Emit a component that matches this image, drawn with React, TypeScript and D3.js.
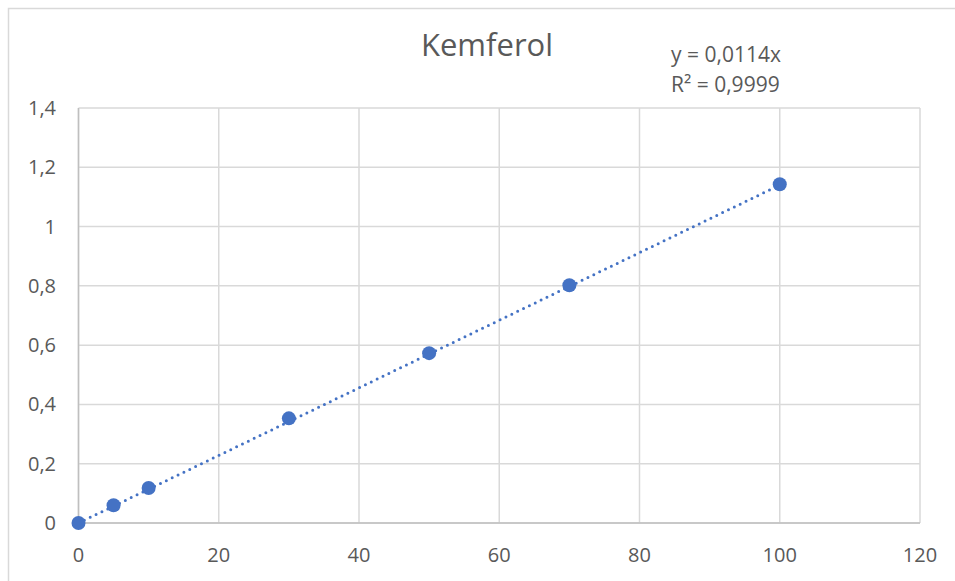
import React from "react";
import * as d3 from "d3";

const xValues = [0, 5, 10, 30, 50, 70, 100];
const yValues = [0, 0.06, 0.118, 0.353, 0.573, 0.802, 1.143];
const xTicks = [0, 20, 40, 60, 80, 100, 120];
const yTicks = [0, 0.2, 0.4, 0.6, 0.8, 1, 1.2, 1.4];
const slope = 0.0114;
const title = "Kemferol";
const eqLine1 = "y = 0,0114x";
const eqLine2 = "R² = 0,9999";

const W = 955;
const H = 581;
const left = 78.5;
const right = 920;
const top = 108;
const bottom = 523;
const blue = "#4472C4";
const textColor = "#595959";
const font = "'Open Sans', sans-serif";

const fmt = (v: number) => String(v).replace(".", ",");

export default function App() {
  const x = d3.scaleLinear().domain([0, 120]).range([left, right]);
  const y = d3.scaleLinear().domain([0, 1.4]).range([bottom, top]);
  const trend = d3
    .line<number>()
    .x((d) => x(d))
    .y((d) => y(slope * d));

  return (
    <svg
      width={W}
      height={H}
      style={{ position: "absolute", left: 0, top: 0, background: "#fff" }}
    >
      <rect x={8.5} y={8.5} width={W + 20} height={H + 20} fill="#fff" stroke="#d9d9d9" strokeWidth={1.5} />
      {/* grid */}
      {yTicks.map((t) => (
        <line key={"gy" + t} x1={left} x2={right} y1={y(t)} y2={y(t)} stroke="#d9d9d9" strokeWidth={1.5} />
      ))}
      {xTicks.map((t) => (
        <line key={"gx" + t} x1={x(t)} x2={x(t)} y1={top} y2={bottom} stroke="#d9d9d9" strokeWidth={1.5} />
      ))}
      {/* axes */}
      <line x1={left} x2={left} y1={top} y2={bottom} stroke="#bfbfbf" strokeWidth={1.5} />
      <line x1={left} x2={right} y1={bottom} y2={bottom} stroke="#bfbfbf" strokeWidth={1.5} />
      {/* tick labels */}
      {yTicks.map((t) => (
        <text
          key={"ly" + t}
          x={56}
          y={y(t)}
          dy="0.35em"
          textAnchor="end"
          fontFamily={font}
          fontSize={20}
          fill={textColor}
        >
          {fmt(t)}
        </text>
      ))}
      {xTicks.map((t) => (
        <text
          key={"lx" + t}
          x={x(t)}
          y={562}
          textAnchor="middle"
          fontFamily={font}
          fontSize={20}
          fill={textColor}
        >
          {fmt(t)}
        </text>
      ))}
      {/* trendline */}
      <path
        d={trend([0, 100]) || ""}
        fill="none"
        stroke={blue}
        strokeWidth={3}
        strokeDasharray="0 6.5"
        strokeLinecap="round"
      />
      {/* points */}
      {xValues.map((v, i) => (
        <circle key={"p" + i} cx={x(v)} cy={y(yValues[i])} r={7} fill={blue} />
      ))}
      {/* title */}
      <text x={487} y={56} textAnchor="middle" fontFamily={font} fontSize={31} fill={textColor}>
        {title}
      </text>
      <text x={671} y={62} fontFamily={font} fontSize={21} fill={textColor}>
        {eqLine1}
      </text>
      <text x={671} y={92} fontFamily={font} fontSize={21} fill={textColor}>
        {eqLine2}
      </text>
    </svg>
  );
}
